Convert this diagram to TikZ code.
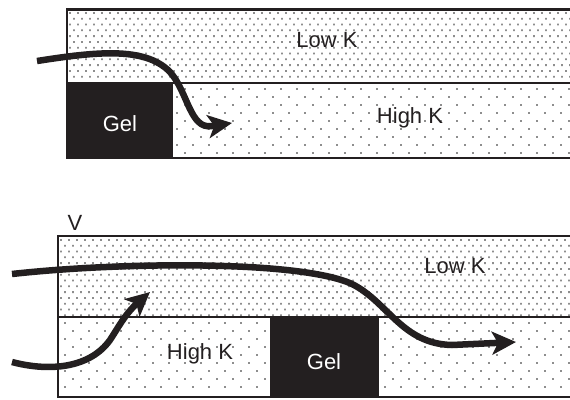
\documentclass[tikz,border=0pt]{standalone}
\usepackage{fontspec}
\setmainfont{Liberation Sans}
\usetikzlibrary{arrows.meta}
\definecolor{ink}{HTML}{231F20}
\definecolor{dotc}{HTML}{8E8E8E}
\tikzset{
  lbl/.style={inner sep=0pt, text=ink, font=\fontsize{22}{26}\selectfont},
  gellbl/.style={lbl, text=white},
  flow/.style={line width=6.5pt, ink, -{Stealth[length=24pt,width=23pt,inset=6pt]}},
  edge/.style={line width=2pt, ink},
  gelbox/.style={fill=ink}
}
\newcommand{\densedots}[4]{% x0, y0, rows, cols
  \foreach \j in {0,...,#3}{
    \pgfmathsetmacro\yy{#2+5.8*\j}
    \pgfmathsetmacro\xo{#1+4*mod(\j,2)}
    \fill[dotc] \foreach \i in {0,...,#4}{ (\xo+8*\i,\yy) rectangle ++(1.8,1.8) };
  }}
\newcommand{\sparsedots}[4]{%
  \foreach \j in {0,...,#3}{
    \pgfmathsetmacro\yy{#2+8*\j}
    \pgfmathsetmacro\xo{#1+8*mod(\j,2)}
    \fill[dotc] \foreach \i in {0,...,#4}{ (\xo+16*\i,\yy) rectangle ++(1.8,1.8) };
  }}
\begin{document}
\begin{tikzpicture}[x=1pt,y=-1pt]
\useasboundingbox (0,0) rectangle (570,399);
\begin{scope}
\clip (0,0) rectangle (570,399);
% ---- top panel dots
\densedots{69}{12}{11}{63}
\sparsedots{72}{88}{8}{31}
% ---- bottom panel dots
\densedots{60}{239}{13}{64}
\sparsedots{64}{322}{8}{32}
% ---- top panel
\fill[gelbox] (67,83) rectangle (173,158);
\draw[line width=3pt, ink] (66,9) -- (572,9);
\draw[edge] (67,83) -- (572,83);
\draw[edge] (67,158) -- (572,158);
\draw[edge] (67,8) -- (67,159);
% ---- bottom panel
\fill[gelbox] (270,317) rectangle (379,397);
\draw[line width=2.5pt, ink] (57,236) -- (572,236);
\draw[edge] (58,317) -- (572,317);
\draw[edge] (58,397) -- (572,397);
\draw[edge] (58,235) -- (58,398);
\end{scope}
% ---- labels
\node[lbl] (lowk1) at (327,40) {Low K};
\node[lbl] (highk1) at (410,118) {High K};
\node[gellbl] (gel1) at (120,124) {Gel};
\node[lbl] (v) at (75,223) {V};
\node[lbl] (lowk2) at (455,266) {Low K};
\node[lbl] (highk2) at (200,354) {High K};
\node[gellbl] (gel2) at (324,362) {Gel};
% ---- flow arrows
\coordinate (a1s) at (37,61);
\coordinate (a1e) at (232,123);
\coordinate (a2s) at (12,274);
\coordinate (a2e) at (516,342);
\coordinate (a3s) at (12,362);
\coordinate (a3e) at (150,292);
\draw[flow] (a1s) .. controls (95,52) and (145,46) .. (170,72)
  .. controls (188,92) and (190,130) .. (212,126) -- (a1e);
\draw[flow] (a2s) .. controls (120,262) and (300,260) .. (352,284)
  .. controls (388,302) and (402,344) .. (452,345) -- (a2e);
\draw[flow] (a3s) .. controls (50,372) and (90,368) .. (110,340)
  .. controls (118,328) and (125,314) .. (a3e);
\end{tikzpicture}
\end{document}
